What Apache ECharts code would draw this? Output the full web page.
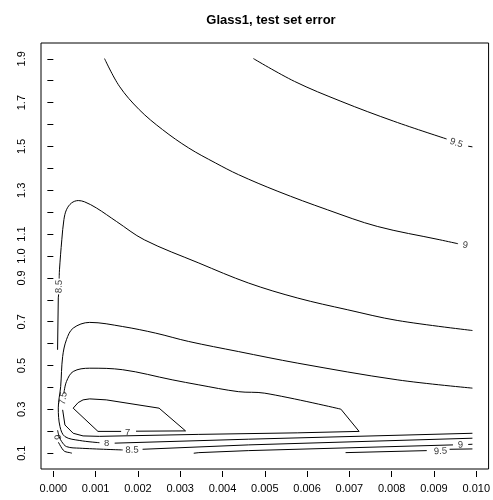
<!DOCTYPE html>
<html><head><meta charset="utf-8">
<script src="https://cdn.jsdelivr.net/npm/echarts@6/dist/echarts.min.js"></script>
<style>html,body{margin:0;padding:0;background:#fff}#c{width:493px;height:500px}</style>
</head><body><div id="c"></div>
<script>
const FONT = 'Liberation Sans, Arial, Helvetica, sans-serif';
const titleText = 'Glass1, test set error';
const xTicks = [0, 0.001, 0.002, 0.003, 0.004, 0.005, 0.006, 0.007, 0.008, 0.009, 0.010];
const yTicks = [0.1,0.2,0.3,0.4,0.5,0.6,0.7,0.8,0.9,1.0,1.1,1.2,1.3,1.4,1.5,1.6,1.7,1.8,1.9];
const yTickLabels = [0.1,0.3,0.5,0.7,0.9,1.0,1.1,1.3,1.5,1.7,1.9];

// contour pieces (x, y); lines are broken where labels sit
const c95Top = [[0.00473,1.901],[0.00570,1.797],[0.00680,1.706],[0.00805,1.615],[0.00930,1.534]];
const c95TopEnd = [[0.00981,1.501],[0.00991,1.498]];
const c95Bot = [[0.00691,0.1027],[0.00883,0.1119]];
const c95BotEnd = [[0.00937,0.1180],[0.00991,0.1196]];
const c9Top = [[0.00121,1.901],[0.00156,1.775],[0.00203,1.668],[0.00258,1.577],[0.00320,1.493],[0.00383,1.425],[0.00438,1.371],[0.00531,1.295],[0.00648,1.211],[0.00766,1.135],[0.00914,1.074],[0.00957,1.056]];
const c9BotLeft = [[0.00012,0.150],[0.00020,0.123],[0.00027,0.108],[0.00039,0.1027],[0.00044,0.100]];
const c9Bot = [[0.00332,0.100],[0.00344,0.1027],[0.00461,0.1119],[0.00945,0.138]];
const c9BotEnd = [[0.00981,0.140],[0.00991,0.141]];
const c85Top = [[0.00991,0.660],[0.00813,0.706],[0.00695,0.755],[0.00578,0.808],[0.00461,0.877],[0.00344,0.968],[0.00215,1.074],[0.00149,1.158],[0.00102,1.219],[0.00074,1.247],[0.00059,1.253],[0.00043,1.242],[0.00031,1.211],[0.00025,1.166],[0.00020,1.074],[0.000145,0.937],[0.000138,0.897]];
const c85TopEnd = [[0.000125,0.825],[0.000117,0.809],[0.000100,0.572]];
const c85Bot = [[0.000100,0.205],[0.000140,0.175],[0.000197,0.153],[0.000314,0.130],[0.000626,0.123],[0.00164,0.115]];
const c85BotEnd = [[0.00211,0.118],[0.00461,0.138],[0.00991,0.1685]];
const c8 = [[0.00991,0.397],[0.00813,0.435],[0.00578,0.511],[0.004375,0.564],[0.00320,0.610],[0.00242,0.648],[0.00164,0.678],[0.00086,0.697],[0.00047,0.671],[0.00031,0.618],[0.00022,0.541],[0.000173,0.404],[0.000117,0.307],[0.000157,0.2215],[0.000274,0.176],[0.000626,0.158],[0.00109,0.148]];
const c8End = [[0.00145,0.146],[0.00461,0.164],[0.00991,0.191]];
const c75Top = [[0.00680,0.301],[0.00500,0.374],[0.004375,0.381],[0.00344,0.412],[0.00281,0.435],[0.00164,0.481],[0.00086,0.488],[0.00047,0.473],[0.00031,0.427],[0.00025,0.374]];
const c75Bot = [[0.00022,0.298],[0.000274,0.229],[0.000469,0.191],[0.000703,0.179],[0.00109,0.177],[0.00344,0.186],[0.00578,0.193],[0.00723,0.1996],[0.00680,0.301]];
const c7 = [[0.001955,0.2005],[0.003126,0.2019],[0.00250,0.3056],[0.001251,0.3435],[0.00086,0.348],[0.000703,0.3435],[0.000586,0.331],[0.000469,0.3056],[0.001055,0.1996],[0.001603,0.1996]];
const pieces = [c95Top,c95TopEnd,c95Bot,c95BotEnd,c9Top,c9BotLeft,c9Bot,c9BotEnd,c85Top,c85TopEnd,c85Bot,c85BotEnd,c8,c8End,c75Top,c75Bot,c7];
const curved = [c95Top,c9Top,c9BotLeft,c85Top,c85Bot,c8,c75Top];

// contour labels
const labelText  = ['9.5','9','8.5','7.5','7','8','8.5','9','9.5','9'];
const labelX     = [0.00953,0.00974,0.000134,0.000234,0.001758,0.00126,0.001861,0.00963,0.009156,0.000117];
const labelY     = [1.515,1.049,0.861,0.351,0.196,0.146,0.114,0.138,0.109,0.174];
const labelAngle = [-18,-8,88,80,0,0,2,3,3,95];

const chart = echarts.init(document.getElementById('c'), null, {renderer:'canvas'});
const series = pieces.map(p => ({
  type:'line', data:p, symbol:'none', smooth: curved.includes(p) ? 0.35 : false, silent:true, animation:false,
  lineStyle:{color:'#000', width:1}, clip:true
}));
series.push({
  type:'scatter', silent:true, animation:false, symbolSize:1,
  itemStyle:{color:'rgba(0,0,0,0)'},
  data: labelText.map((t,i)=>({value:[labelX[i],labelY[i]], name:t,
    label:{show:true, position:'inside', formatter:t, rotate:labelAngle[i],
      color:'#000', fontSize:9.5, fontFamily:FONT}}))
});
chart.setOption({
  backgroundColor:'#fff',
  animation:false,
  title:{text:titleText, left:266, top:9, textAlign:'center',
    textStyle:{fontFamily:FONT, fontWeight:'bold', fontSize:13, color:'#000'}},
  grid:{left:41, top:43, right:0.5, bottom:31, show:true, borderColor:'#000', borderWidth:1, backgroundColor:'rgba(0,0,0,0)'},
  xAxis:{type:'value', min:-0.000292, max:0.010292, offset:2,
    axisLine:{show:false}, splitLine:{show:false},
    axisTick:{show:true, inside:false, length:6, customValues:xTicks, lineStyle:{color:'#000'}},
    axisLabel:{show:true, customValues:xTicks, formatter:v=>(+v).toFixed(3), color:'#000', fontSize:11, fontFamily:FONT, margin:12}},
  yAxis:{type:'value', min:0.028, max:1.972, offset:2,
    axisLine:{show:false}, splitLine:{show:false},
    axisTick:{show:true, inside:false, length:6, customValues:yTicks, lineStyle:{color:'#000'}},
    axisLabel:{show:true, customValues:yTickLabels, formatter:v=>(+v).toFixed(1), rotate:90, color:'#000', fontSize:11, fontFamily:FONT, margin:12}},
  series: series
});
</script></body></html>
